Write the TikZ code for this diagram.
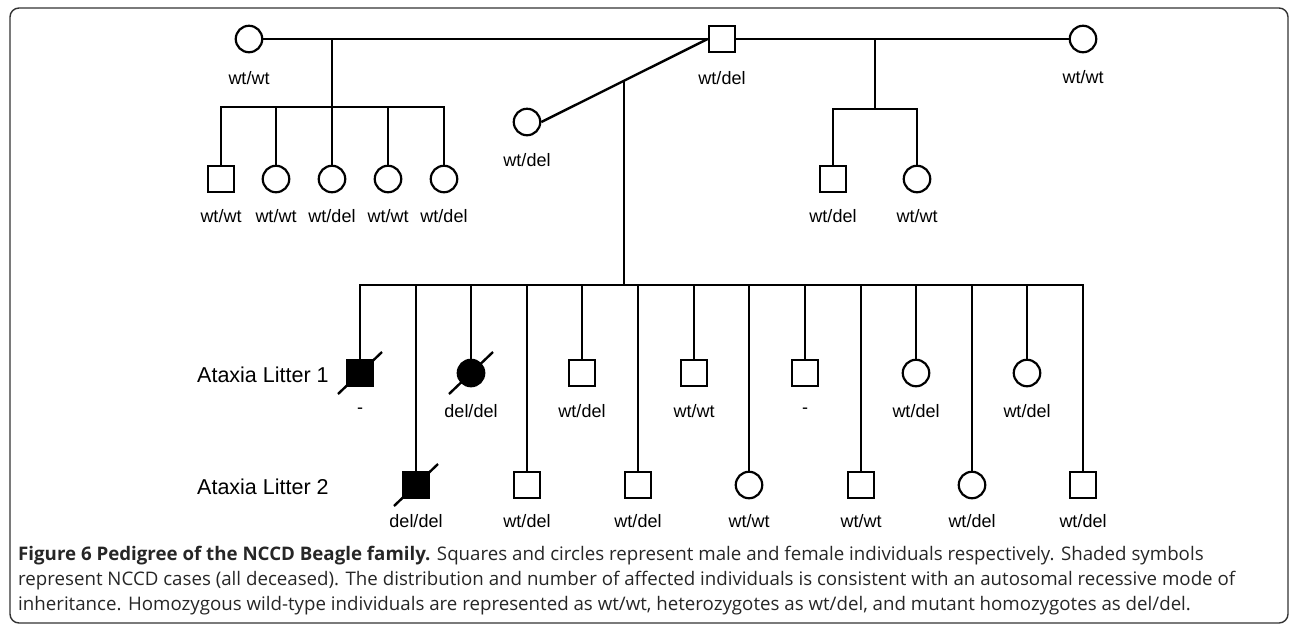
\documentclass[tikz,border=0pt]{standalone}
\usepackage{fontspec}
\setmainfont{Liberation Sans}
\newfontfamily\capfont{Open Sans}
\usetikzlibrary{calc}
\begin{document}
\begin{tikzpicture}[x=1pt,y=-1pt,
  male/.style={draw, line width=2.2pt, rectangle, minimum size=26.5pt, inner sep=0pt},
  female/.style={draw, line width=2.2pt, circle, minimum size=26.5pt, inner sep=0pt},
  aff/.style={fill=black},
  lab/.style={font=\fontsize{18}{20}\selectfont, inner sep=0pt},
  litter/.style={font=\fontsize{21.5}{24}\selectfont, inner sep=0pt, anchor=west},
  conn/.style={line width=2.4pt},
  frm/.style={draw=black!80, line width=1.4pt, rounded corners=9pt},
  captxt/.style={font=\capfont\fontsize{18.7}{25}\selectfont, text=black!85, align=left, inner sep=0pt, anchor=north west}]
\useasboundingbox (0,0) rectangle (1290,625);
\draw[frm] (10,8) rectangle (1288,623);

% generation I
\node[female] (g1) at (249,39) {};
\node[male]   (g2) at (722,39) {};
\node[female] (g3) at (1083,39) {};
\node[female] (g4) at (527,122) {};
\node[lab] (lg1) at (249,78) {wt/wt};
\node[lab] (lg2) at (722,78) {wt/del};
\node[lab] (lg3) at (1083,77) {wt/wt};
\node[lab] (lg4) at (527,160) {wt/del};
\draw[conn] (g1) -- (g2);
\draw[conn] (g2) -- (g3);
\draw[conn] (g4.east) -- (g2.west);

% left family
\coordinate (m1) at (332,39);
\coordinate (s1) at (332,107);
\node[male]   (a1) at (221,179) {};
\node[female] (a2) at (276,179) {};
\node[female] (a3) at (332,179) {};
\node[female] (a4) at (388,179) {};
\node[female] (a5) at (444,179) {};
\node[lab] (la1) at (221,216) {wt/wt};
\node[lab] (la2) at (276,216) {wt/wt};
\node[lab] (la3) at (332,216) {wt/del};
\node[lab] (la4) at (388,216) {wt/wt};
\node[lab] (la5) at (444,216) {wt/del};
\draw[conn] (m1) -- (s1);
\foreach \c in {a1,a2,a3,a4,a5} \draw[conn] (\c.north) |- (s1);

% right family
\coordinate (m2) at (875,39);
\coordinate (s2) at (875,109);
\node[male]   (b1) at (833,179) {};
\node[female] (b2) at (917,179) {};
\node[lab] (lb1) at (833,216) {wt/del};
\node[lab] (lb2) at (917,216) {wt/wt};
\draw[conn] (m2) -- (s2);
\foreach \c in {b1,b2} \draw[conn] (\c.north) |- (s2);

% main litter
\coordinate (m3) at (624,80.7);
\coordinate (s3) at (624,285);
\draw[conn] (m3) -- (s3);
\foreach \k/\sh/\f/\t in {0/male/aff/-,1/male/aff/del\slash del,2/female/aff/del\slash del,3/male//wt\slash del,
  4/male//wt\slash del,5/male//wt\slash del,6/male//wt\slash wt,7/female//wt\slash wt,8/male//-,
  9/male//wt\slash wt,10/female//wt\slash del,11/female//wt\slash del,12/female//wt\slash del,13/male//wt\slash del}{
  \pgfmathsetmacro{\xx}{round(360+55.62*\k)}
  \pgfmathsetmacro{\yy}{ifthenelse(mod(\k,2)==0,373,485)}
  \pgfmathsetmacro{\ly}{ifthenelse(mod(\k,2)==0,411,521)}
  \node[\sh,\f] (k\k) at (\xx,\yy) {};
  \node[lab] (lk\k) at (\xx,\ly) {\t};
  \draw[conn] (k\k.north) |- (s3);
}
\foreach \k in {0,1,2}
  \draw[conn] ($(k\k.center)+(-22,21)$) -- ($(k\k.center)+(22,-21)$);

\node[litter] (l1) at (197,375) {Ataxia Litter 1};
\node[litter] (l2) at (197,487) {Ataxia Litter 2};

\node[captxt] (caption) at (18,546) {\textbf{Figure 6 Pedigree of the NCCD Beagle family.} Squares and circles represent male and female individuals respectively. Shaded symbols\\
represent NCCD cases (all deceased). The distribution and number of affected individuals is consistent with an autosomal recessive mode of\\
inheritance. Homozygous wild-type individuals are represented as wt/wt, heterozygotes as wt/del, and mutant homozygotes as del/del.};
\end{tikzpicture}
\end{document}
